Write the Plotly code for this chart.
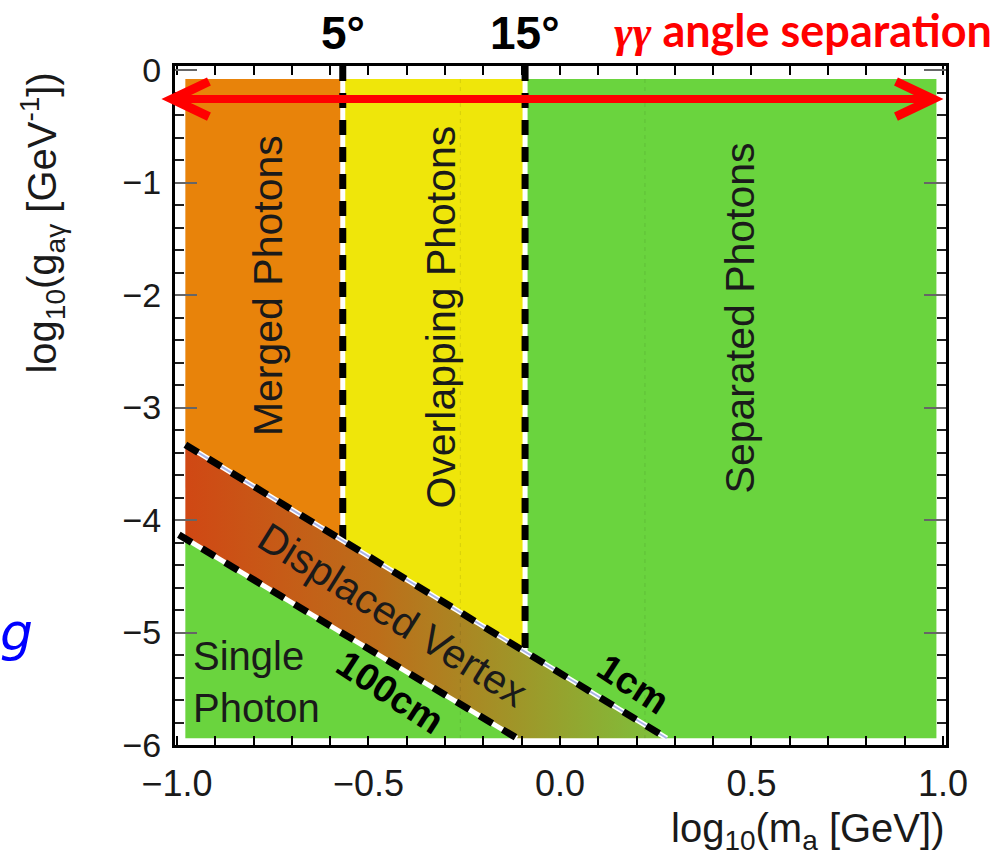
import numpy as np
import plotly.graph_objects as go

# ---------------- data ----------------
x_range = [-1.005, 1.008]          # log10(m_a [GeV])
y_range = [-6.0, 0.036]            # log10(g_agamma [GeV^-1])

map_x = [-0.978, 0.983]            # extent of the coloured map
map_y = [-5.94, -0.08]

angle_labels = ["5°", "15°"]       # photon opening-angle boundaries
angle_x = [-0.567, -0.091]

cm1_x = [-0.978, 0.279]            # 1 cm decay-length contour
cm1_y = [-3.33, -5.94]
cm100_x = [-0.995, -0.117]         # 100 cm decay-length contour
cm100_y = [-4.13, -5.93]

guide_x = [-0.26, 0.222]           # faint dashed guide lines

region_names = ["Merged Photons", "Overlapping Photons", "Separated Photons",
                "Displaced Vertex", "Single Photon"]
region_colors = ["#e8830a", "#efe60a", "#6ad43e", None, "#6ad43e"]

arrow_y = -0.258
arrow_x = [-1.013, 0.974]


def line_y(xs, ys, x):
    s = (ys[1] - ys[0]) / (xs[1] - xs[0])
    return ys[0] + s * (x - xs[0])


def line_x(xs, ys, y):
    s = (ys[1] - ys[0]) / (xs[1] - xs[0])
    return xs[0] + (y - ys[0]) / s


xl, xr = map_x
yb, yt = map_y
x5, x15 = angle_x
y1_l, y1_5, y1_15 = (line_y(cm1_x, cm1_y, v) for v in (xl, x5, x15))
y100_l = line_y(cm100_x, cm100_y, xl)
x1_b = line_x(cm1_x, cm1_y, yb)
x100_b = line_x(cm100_x, cm100_y, yb)

fig = go.Figure()

polys = [
    ([xl, x5, x5, xl], [yt, yt, y1_5, y1_l]),
    ([x5, x15, x15, x5], [yt, yt, y1_15, y1_5]),
    ([x15, xr, xr, x1_b, x15], [yt, yt, yb, yb, y1_15]),
    ([xl, x1_b, x100_b, xl], [y1_l, yb, yb, y100_l]),
    ([xl, x100_b, xl], [y100_l, yb, yb]),
]
for i, (px, py) in enumerate(polys):
    kw = dict(x=px + [px[0]], y=py + [py[0]], mode="lines", fill="toself",
              line=dict(width=0), hoverinfo="skip", showlegend=False,
              name=region_names[i])
    if region_colors[i] is None:
        kw["fillgradient"] = dict(type="horizontal", colorscale=[
            [0, "#d04814"], [0.4, "#bc6e1a"], [0.72, "#9c9a2a"], [1, "#7cc23c"]])
        kw["fillcolor"] = "#b07a20"
    else:
        kw["fillcolor"] = region_colors[i]
    fig.add_trace(go.Scatter(**kw))

# faint guide lines
for gx in guide_x:
    fig.add_trace(go.Scatter(x=[gx, gx], y=[yt, yb], mode="lines",
                             line=dict(color="rgba(0,0,0,0.10)", width=1, dash="4px,4px"),
                             hoverinfo="skip", showlegend=False))

# boundary lines
bounds = [
    ([x5, x5], [y_range[1], y1_5], False),
    ([x15, x15], [y_range[1], y1_15], False),
    ([cm1_x[0], x1_b], [cm1_y[0], yb], True),
    ([cm100_x[0], x100_b], [cm100_y[0], yb], False),
]
for bx, by, blue in bounds:
    fig.add_trace(go.Scatter(x=bx, y=by, mode="lines", line=dict(color="white", width=5),
                             hoverinfo="skip", showlegend=False))
    if blue:
        fig.add_trace(go.Scatter(x=bx, y=by, mode="lines",
                                 line=dict(color="#aab4e6", width=2),
                                 hoverinfo="skip", showlegend=False))
    fig.add_trace(go.Scatter(x=bx, y=by, mode="lines",
                             line=dict(color="black", width=7, dash="15px,12px"),
                             hoverinfo="skip", showlegend=False))

# ---------------- red double arrow ----------------
def to_paper(x):
    return (x - x_range[0]) / (x_range[1] - x_range[0])

pl, pr = to_paper(arrow_x[0]), to_paper(arrow_x[1])
adx, ady = 0.048, 0.156
red = "#ff0000"
shapes = [
    dict(type="line", xref="paper", yref="y", x0=pl, x1=pr, y0=arrow_y, y1=arrow_y,
         line=dict(color=red, width=8)),
    dict(type="path", xref="paper", yref="y",
         path=f"M {pl+adx},{arrow_y+ady} L {pl},{arrow_y} L {pl+adx},{arrow_y-ady}",
         line=dict(color=red, width=9)),
    dict(type="path", xref="paper", yref="y",
         path=f"M {pr-adx},{arrow_y+ady} L {pr},{arrow_y} L {pr-adx},{arrow_y-ady}",
         line=dict(color=red, width=9)),
]

# ---------------- text ----------------
sans = "Liberation Sans, Arial, sans-serif"
txt = "#1a1a1a"
ann = []
label_pos = [(-0.762, -1.92, -90), (-0.313, -2.20, -90), (0.470, -2.20, -90),
             (-0.436, -4.84, 32)]
for (lx, ly, ang), name in zip(label_pos, region_names[:4]):
    ann.append(dict(x=lx, y=ly, xref="x", yref="y", text=name, showarrow=False,
                    xanchor="center", yanchor="middle",
                    textangle=ang, font=dict(family=sans, size=41, color=txt)))
ann.append(dict(x=-0.962, y=-5.44, xref="x", yref="y", text="Single<br>Photon",
                showarrow=False, xanchor="left", yanchor="middle", align="left",
                font=dict(family=sans, size=40, color=txt)))
ann.append(dict(x=-0.444, y=-5.53, xref="x", yref="y", text="<b>100cm</b>",
                showarrow=False, textangle=33, xanchor="center", yanchor="middle",
                font=dict(family=sans, size=38, color="black")))
ann.append(dict(x=0.191, y=-5.46, xref="x", yref="y", text="<b>1cm</b>",
                showarrow=False, textangle=33, xanchor="center", yanchor="middle",
                font=dict(family=sans, size=38, color="black")))
for lab, ax_ in zip(angle_labels, angle_x):
    ann.append(dict(x=ax_, y=1.048, xref="x", yref="paper", text=f"<b>{lab}</b>",
                    showarrow=False, xanchor="center", yanchor="middle",
                    font=dict(family=sans, size=46, color="black")))
ann.append(dict(x=1.062, y=1.053, xref="paper", yref="paper", xanchor="right", yanchor="middle",
                text="<span style='font-family:Liberation Serif'><i>γγ</i></span> angle separation",
                showarrow=False, font=dict(family="Lato, sans-serif", size=45, color=red,
                                           weight="bold")))
# axis titles
ann.append(dict(x=-0.1725, y=0.768, xref="paper", yref="paper", textangle=-90,
                xanchor="center", yanchor="middle",
                text="log<sub>10</sub>(g<sub>aγ</sub> [GeV<sup>-1</sup>])", showarrow=False,
                font=dict(family=sans, size=40, color=txt)))
ann.append(dict(x=1.0, y=-0.126, xref="paper", yref="paper", xanchor="right", yanchor="middle",
                text="log<sub>10</sub>(m<sub>a</sub> [GeV])", showarrow=False,
                font=dict(family=sans, size=40, color=txt)))
# cut-off slide text at the left edge
ann.append(dict(x=-0.23, y=0.166, xref="paper", yref="paper", xanchor="left", yanchor="middle",
                text="<i>g</i>", showarrow=False,
                font=dict(family="DejaVu Sans, sans-serif", size=52, color="#0000ff")))

fig.update_layout(
    width=1000, height=866, margin=dict(l=175, r=54, t=66, b=121),
    paper_bgcolor="white", plot_bgcolor="white",
    shapes=shapes, annotations=ann, showlegend=False,
    xaxis=dict(range=x_range, showgrid=False, zeroline=False, showline=True,
               linecolor="black", linewidth=3, mirror="ticks",
               ticks="inside", tick0=-1, dtick=0.5, ticklen=9, tickwidth=2, tickcolor="black",
               tickformat=".1f", ticklabelstandoff=5,
               tickfont=dict(family=sans, size=36, color=txt),
               minor=dict(dtick=0.1, ticks="inside", ticklen=9, tickwidth=2, tickcolor="black",
                          showgrid=False)),
    yaxis=dict(range=y_range, showgrid=False, zeroline=False, showline=True,
               linecolor="black", linewidth=3, mirror="ticks",
               ticks="inside", tick0=0, dtick=1, ticklen=22, tickwidth=2, tickcolor="#666",
               tickformat="d", ticklabelstandoff=4,
               tickfont=dict(family=sans, size=34, color=txt),
               minor=dict(dtick=0.2, ticks="inside", ticklen=9, tickwidth=2, tickcolor="#222",
                          showgrid=False)),
)

fig.write_html("out.html")
